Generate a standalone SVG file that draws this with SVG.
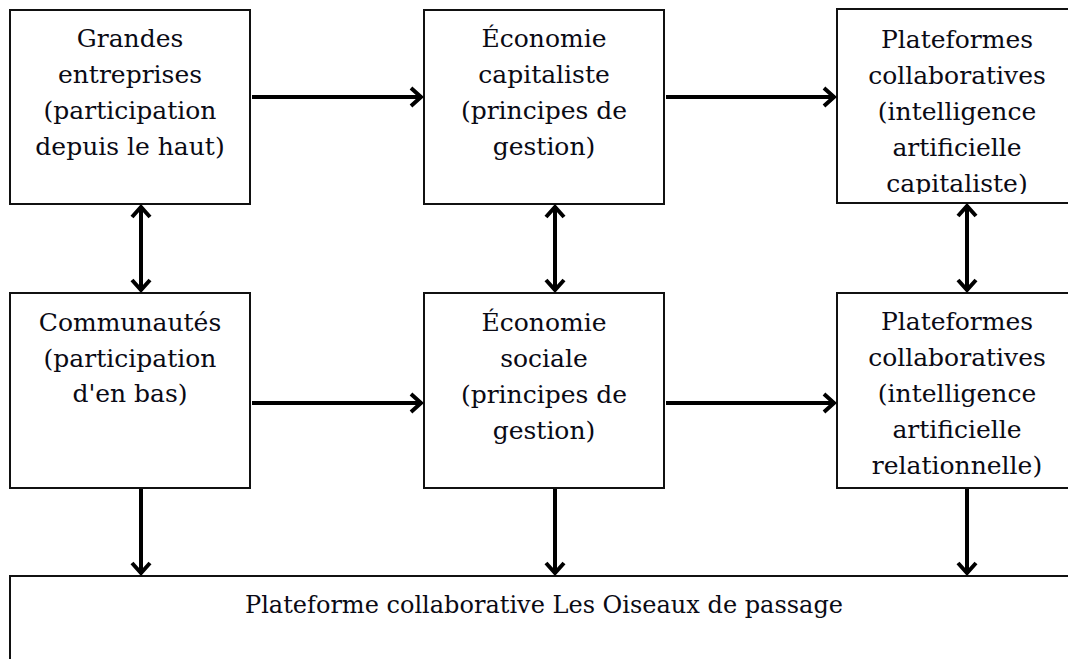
<svg xmlns="http://www.w3.org/2000/svg" width="1068" height="659" viewBox="0 0 1068 659">
<style>
.box{fill:#fff;stroke:#111;stroke-width:2}
.t{font-family:"DejaVu Serif","Liberation Serif",serif;font-size:25px;fill:#0a0a14;text-anchor:middle}
.c{stroke:#000;stroke-width:4;fill:none}
</style>
<defs>
<marker id="ah" markerUnits="userSpaceOnUse" markerWidth="30" markerHeight="30" viewBox="-15 -15 30 30" refX="0" refY="0" orient="auto-start-reverse">
<path d="M-11,-9 L-1,0 L-11,9" fill="none" stroke="#000" stroke-width="4" stroke-linejoin="miter"/>
</marker>
<clipPath id="clip3"><rect x="837" y="9" width="240" height="185"/></clipPath>
<clipPath id="clip6"><rect x="837" y="293" width="240" height="186"/></clipPath>
</defs>
<g id="n1">
<rect class="box" x="10" y="10" width="240" height="194"/>
<text class="t" x="130"><tspan x="130" y="47">Grandes</tspan><tspan x="130" y="83">entreprises</tspan><tspan x="130" y="119">(participation</tspan><tspan x="130" y="155">depuis le haut)</tspan></text>
</g>
<g id="n2">
<rect class="box" x="424" y="10" width="240" height="194"/>
<text class="t"><tspan x="544" y="47">Économie</tspan><tspan x="544" y="83">capitaliste</tspan><tspan x="544" y="119">(principes de</tspan><tspan x="544" y="155">gestion)</tspan></text>
</g>
<g id="n3">
<rect class="box" x="837" y="9" width="240" height="194"/>
<text class="t" clip-path="url(#clip3)"><tspan x="957" y="48">Plateformes</tspan><tspan x="957" y="84">collaboratives</tspan><tspan x="957" y="120">(intelligence</tspan><tspan x="957" y="156">artificielle</tspan><tspan x="957" y="192">capitaliste)</tspan></text>
</g>
<g id="n4">
<rect class="box" x="10" y="293" width="240" height="195"/>
<text class="t"><tspan x="130" y="331">Communautés</tspan><tspan x="130" y="367">(participation</tspan><tspan x="130" y="402">d'en bas)</tspan></text>
</g>
<g id="n5">
<rect class="box" x="424" y="293" width="240" height="195"/>
<text class="t"><tspan x="544" y="331">Économie</tspan><tspan x="544" y="367">sociale</tspan><tspan x="544" y="403">(principes de</tspan><tspan x="544" y="439">gestion)</tspan></text>
</g>
<g id="n6">
<rect class="box" x="837" y="293" width="240" height="195"/>
<text class="t" clip-path="url(#clip6)"><tspan x="957" y="330">Plateformes</tspan><tspan x="957" y="366">collaboratives</tspan><tspan x="957" y="402">(intelligence</tspan><tspan x="957" y="438">artificielle</tspan><tspan x="957" y="474">relationnelle)</tspan></text>
</g>
<g id="n7">
<rect class="box" x="10" y="576" width="1070" height="100"/>
<text class="t" x="544" y="613" textLength="598" lengthAdjust="spacingAndGlyphs">Plateforme collaborative Les Oiseaux de passage</text>
</g>
<g id="connectors">
<line class="c" x1="252" y1="97" x2="422" y2="97" marker-end="url(#ah)"/>
<line class="c" x1="666" y1="97" x2="835" y2="97" marker-end="url(#ah)"/>
<line class="c" x1="252" y1="403" x2="422" y2="403" marker-end="url(#ah)"/>
<line class="c" x1="666" y1="403" x2="835" y2="403" marker-end="url(#ah)"/>
<line class="c" x1="141" y1="206" x2="141" y2="291" marker-start="url(#ah)" marker-end="url(#ah)"/>
<line class="c" x1="555" y1="206" x2="555" y2="291" marker-start="url(#ah)" marker-end="url(#ah)"/>
<line class="c" x1="967" y1="205" x2="967" y2="291" marker-start="url(#ah)" marker-end="url(#ah)"/>
<line class="c" x1="141" y1="489" x2="141" y2="574" marker-end="url(#ah)"/>
<line class="c" x1="555" y1="489" x2="555" y2="574" marker-end="url(#ah)"/>
<line class="c" x1="967" y1="489" x2="967" y2="574" marker-end="url(#ah)"/>
</g>
</svg>
